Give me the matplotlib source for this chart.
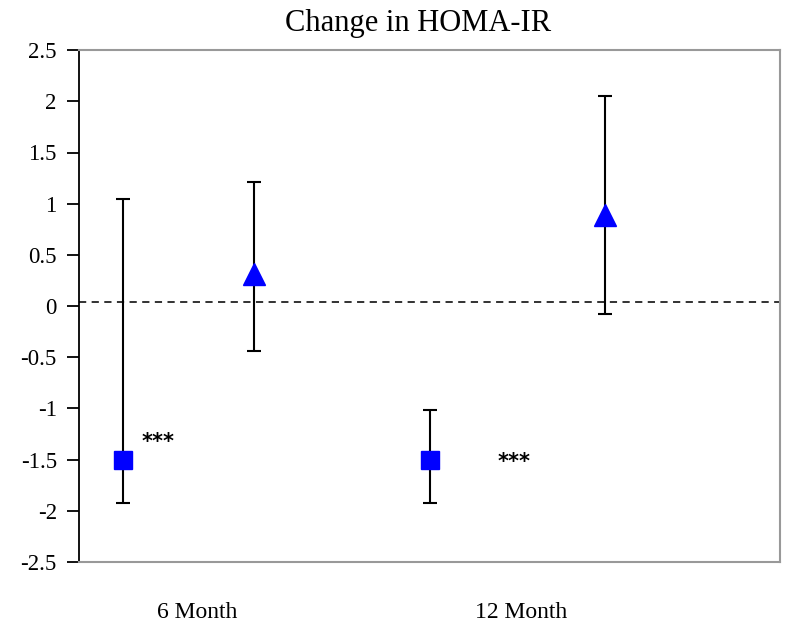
import numpy as np
import matplotlib
matplotlib.use("Agg")
import matplotlib.pyplot as plt

plt.rcParams['font.family'] = ['Liberation Serif', 'DejaVu Serif']

# data
titel = "Change in HOMA-IR"
maanden = ["6 Month", "12 Month"]
label_x = [0.675, 2.52]

# squares (group 1)
vierkant_x = [0.25, 2.0]
vierkant_y = [-1.5, -1.5]
vierkant_laag = [-1.92, -1.92]
vierkant_hoog = [1.05, -1.02]

# triangles (group 2)
driehoek_x = [1.0, 3.0]
driehoek_y = [0.31, 0.89]
driehoek_laag = [-0.44, -0.08]
driehoek_hoog = [1.21, 2.05]

# significance stars
ster_x = [0.45, 2.48]
ster_y = [-1.33, -1.52]
ster_tekst = ["***", "***"]

referentie = 0.04

fig = plt.figure(figsize=(7.86, 6.25), dpi=100)
ax = fig.add_axes([0.1005, 0.1008, 0.892, 0.819])

vy = np.array(vierkant_y)
dy = np.array(driehoek_y)
ax.errorbar(vierkant_x, vy,
            yerr=[vy - np.array(vierkant_laag), np.array(vierkant_hoog) - vy],
            fmt='none', ecolor='black', elinewidth=1.5, capsize=5, capthick=1.5, zorder=2)
ax.errorbar(driehoek_x, dy,
            yerr=[dy - np.array(driehoek_laag), np.array(driehoek_hoog) - dy],
            fmt='none', ecolor='black', elinewidth=1.5, capsize=5, capthick=1.5, zorder=2)
ax.plot(vierkant_x, vierkant_y, 's', color='#0000ff', markersize=13.5, zorder=3)
ax.plot(driehoek_x, driehoek_y, '^', color='#0000ff', markersize=16, zorder=3)

ax.axhline(referentie, color='#222222', linestyle=(0, (4, 3)), linewidth=1.3, zorder=1)

for x, y, t in zip(ster_x, ster_y, ster_tekst):
    ax.text(x, y, t, fontsize=15, fontweight='bold', ha='center', va='center',
            family=['DejaVu Sans'])

ax.set_xlim(0, 4)
ax.set_ylim(-2.5, 2.5)
ax.set_yticks(np.arange(-2.5, 2.51, 0.5))
ax.set_yticklabels(['%g' % v for v in np.arange(-2.5, 2.51, 0.5)], fontsize=16.5)
ax.set_xticks(label_x)
ax.set_xticklabels(maanden, fontsize=17)
ax.tick_params(axis='x', length=0, pad=29)
ax.tick_params(axis='y', direction='out', length=9, width=1.3, pad=7)

ax.spines['left'].set_color('black')
ax.spines['left'].set_linewidth(1.3)
for s in ['top', 'right', 'bottom']:
    ax.spines[s].set_color('#999999')
    ax.spines[s].set_linewidth(1.5)

fig.text(0.532, 0.962, titel, fontsize=22, ha='center', va='center')

fig.savefig('out.png', dpi=100)
